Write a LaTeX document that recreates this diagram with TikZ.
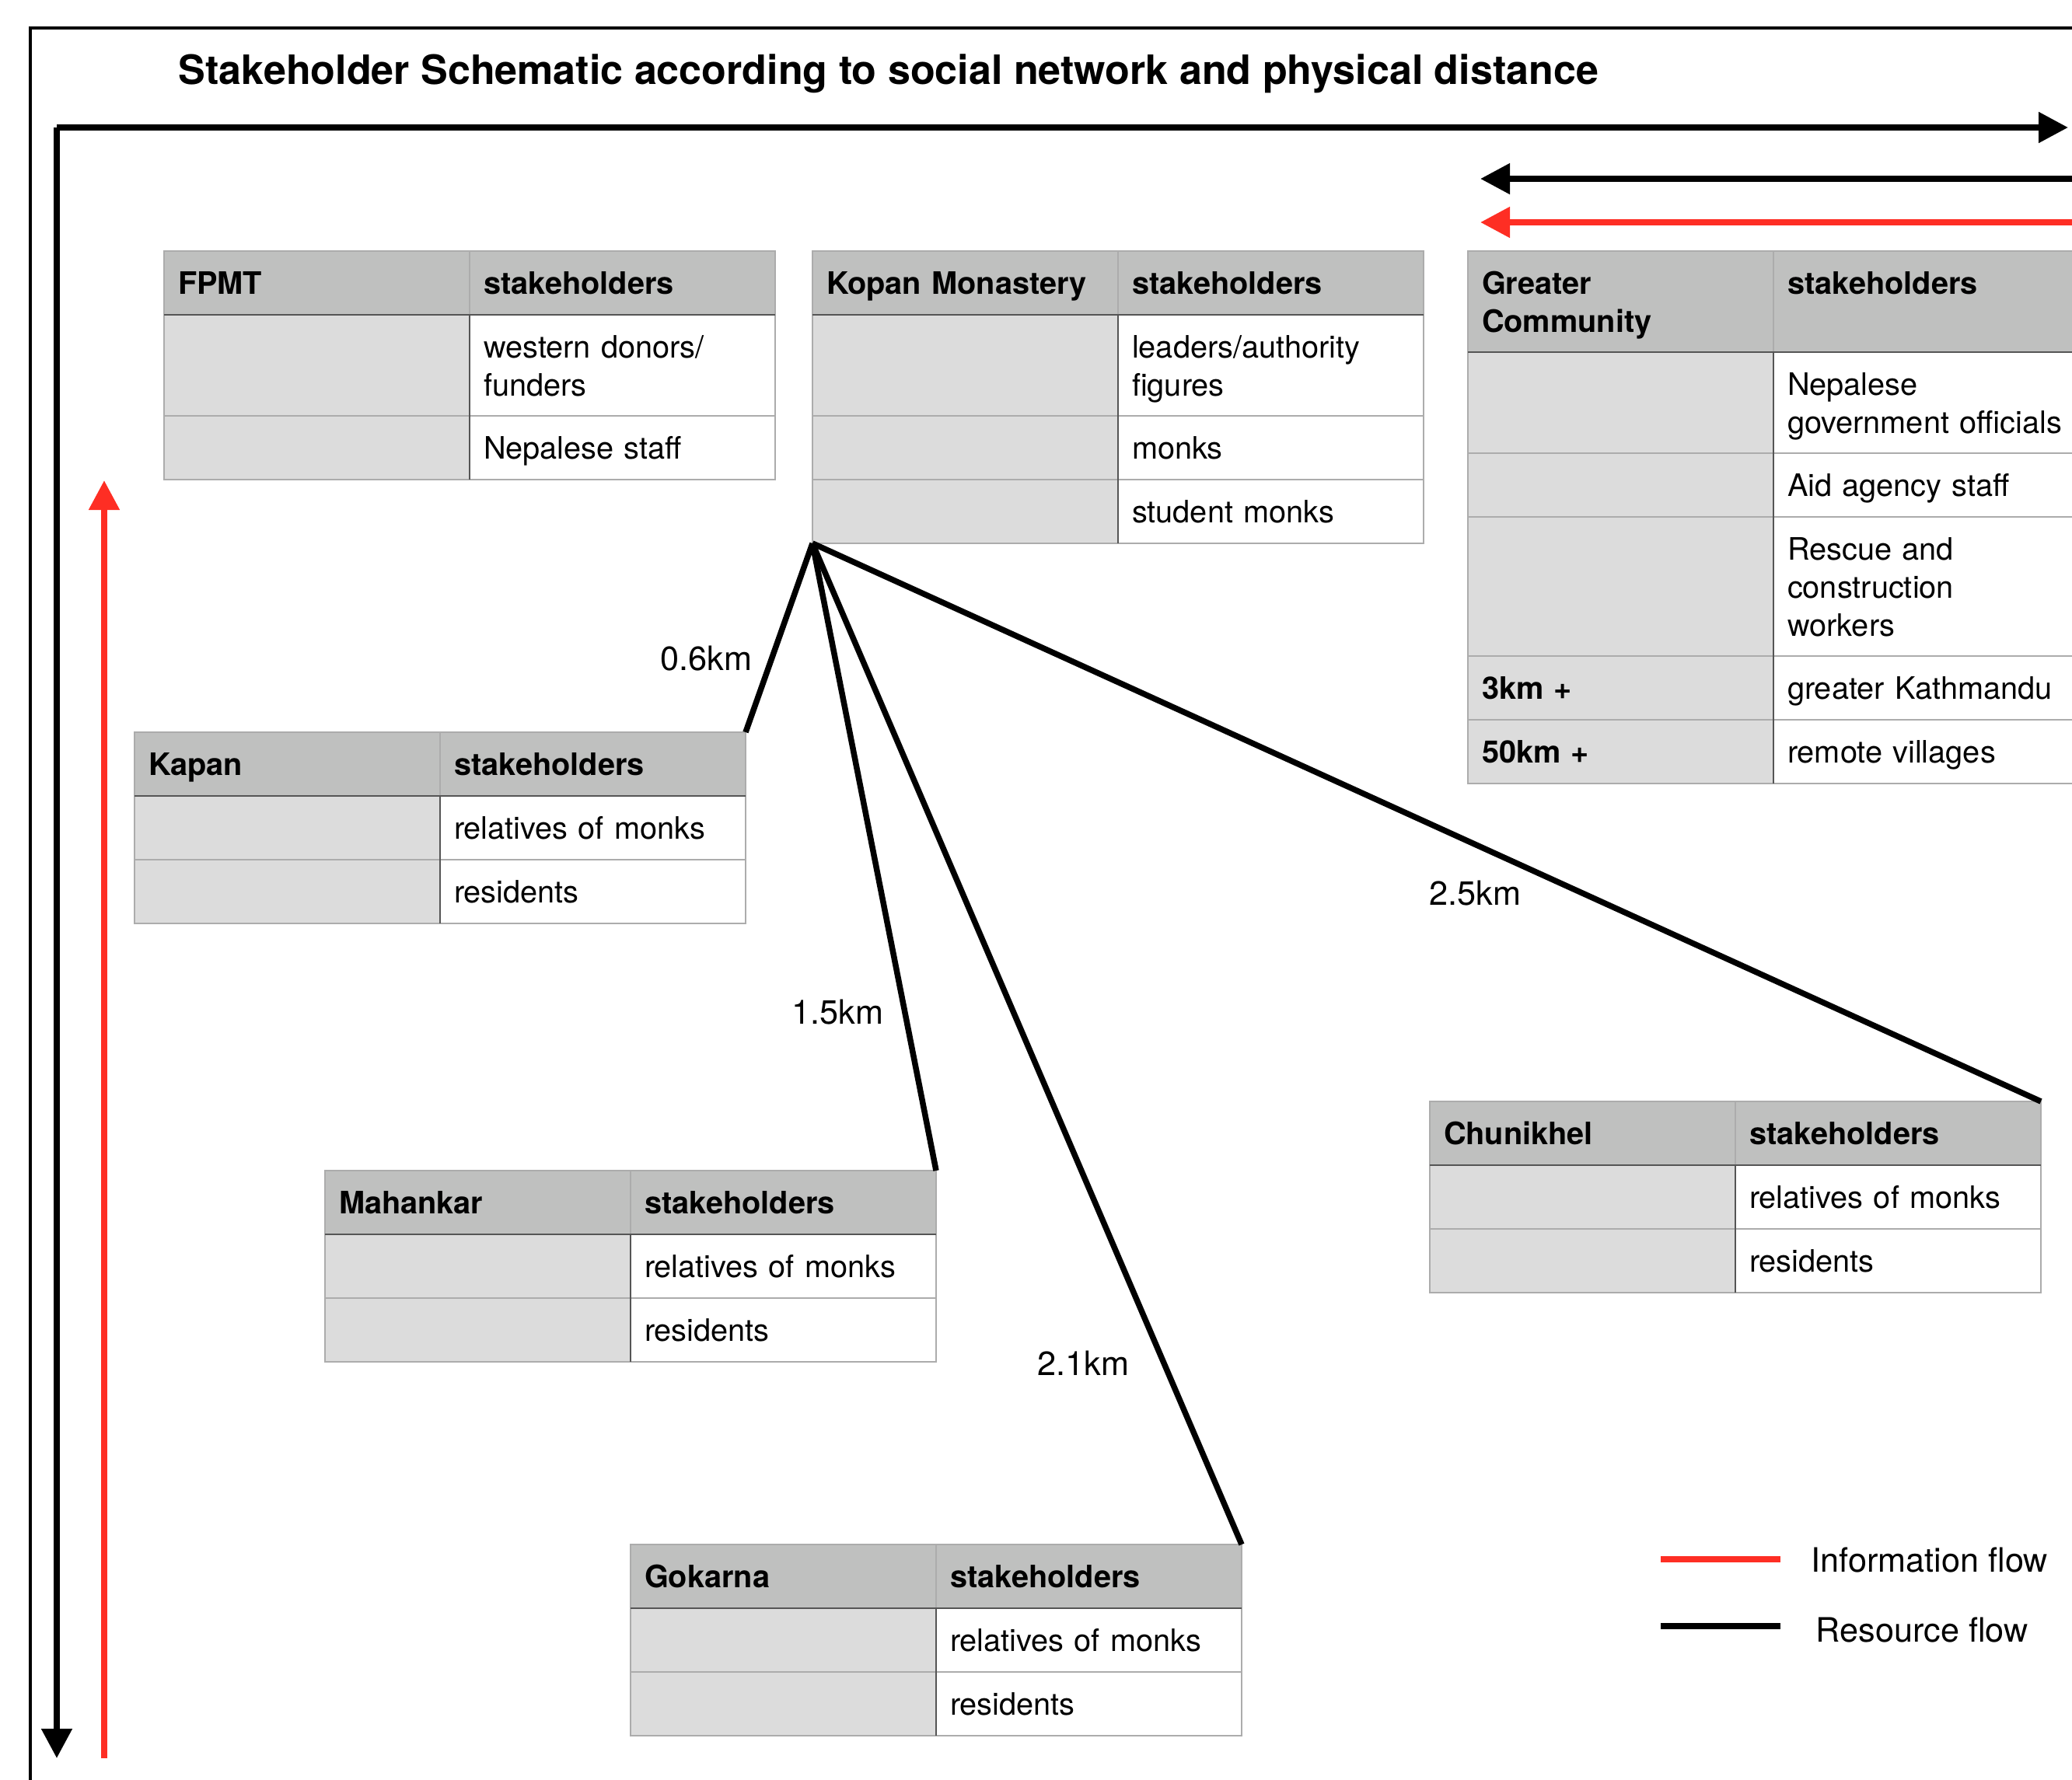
\documentclass[tikz,border=0pt]{standalone}
\usepackage{fontspec}
\setmainfont{TeX Gyre Heros}
\usetikzlibrary{positioning,arrows.meta}

\definecolor{hdgray}{RGB}{191,192,191}
\definecolor{sdgray}{RGB}{220,220,220}
\definecolor{gridgray}{RGB}{172,172,172}
\definecolor{darkgrid}{RGB}{85,85,85}
\definecolor{infored}{RGB}{254,46,36}

\tikzset{
  cell/.style={draw=gridgray, line width=0.02cm, outer sep=0pt, inner xsep=0.18cm, inner ysep=0pt,
    text width=3.57cm, minimum width=3.93cm, minimum height=0.82cm, align=left,
    font=\fontsize{11.3}{13.9}\selectfont,
    execute at begin node=\rule{0pt}{12.6pt}, execute at end node=\strut},
  hd/.style={cell, fill=hdgray, font=\fontsize{11.3}{13.9}\selectfont\bfseries},
  sd/.style={cell, fill=sdgray},
  bd/.style={cell, fill=white},
  two/.style={minimum height=1.30cm},
  three/.style={minimum height=1.79cm},
  darkline/.style={draw=darkgrid, line width=0.02cm},
  link/.style={line width=0.075cm},
  flow/.style={line width=0.08cm},
  dist/.style={font=\fontsize{12.3}{14.8}\selectfont, inner sep=0pt},
}

\begin{document}
\begin{tikzpicture}[>={Triangle[length=0.38cm,width=0.38cm]}]

\path[use as bounding box, clip] (0,0) rectangle (26.65,-22.89);

% frame and title
\draw[line width=0.04cm] (0.39,-24) -- (0.39,-0.36) -- (28,-0.36);
\node[anchor=base west, inner sep=0pt, font=\fontsize{14.8}{17}\selectfont\bfseries] (title) at (2.29,-1.08)
  {Stakeholder Schematic according to social network and physical distance};

% FPMT
\node[hd, anchor=north west] (fpmt) at (2.11,-3.23) {FPMT};
\node[hd, right=0pt of fpmt] (fpmt-st) {stakeholders};
\node[sd, two, below=0pt of fpmt] (fpmt-a1) {};
\node[bd, two, right=0pt of fpmt-a1] (fpmt-b1) {western donors/\\funders};
\node[sd, below=0pt of fpmt-a1] (fpmt-a2) {};
\node[bd, right=0pt of fpmt-a2] (fpmt-b2) {Nepalese staff};
\draw[darkline] (fpmt.south west) -- (fpmt-st.south east);
\draw[darkline] (fpmt-a1.north east) -- (fpmt-a2.south east);

% Kopan Monastery
\node[hd, anchor=north west] (kopan) at (10.45,-3.23) {Kopan Monastery};
\node[hd, right=0pt of kopan] (kopan-st) {stakeholders};
\node[sd, two, below=0pt of kopan] (kopan-a1) {};
\node[bd, two, right=0pt of kopan-a1] (kopan-b1) {leaders/authority\\figures};
\node[sd, below=0pt of kopan-a1] (kopan-a2) {};
\node[bd, right=0pt of kopan-a2] (kopan-b2) {monks};
\node[sd, below=0pt of kopan-a2] (kopan-a3) {};
\node[bd, right=0pt of kopan-a3] (kopan-b3) {student monks};
\draw[darkline] (kopan.south west) -- (kopan-st.south east);
\draw[darkline] (kopan-a1.north east) -- (kopan-a3.south east);

% Greater Community
\node[hd, two, anchor=north west] (greater) at (18.88,-3.23) {Greater\\Community};
\node[hd, two, right=0pt of greater] (greater-st) {stakeholders\\\mbox{}};
\node[sd, two, below=0pt of greater] (greater-a1) {};
\node[bd, two, right=0pt of greater-a1] (greater-b1) {Nepalese\\government officials};
\node[sd, below=0pt of greater-a1] (greater-a2) {};
\node[bd, right=0pt of greater-a2] (greater-b2) {Aid agency staff};
\node[sd, three, below=0pt of greater-a2] (greater-a3) {};
\node[bd, three, right=0pt of greater-a3] (greater-b3) {Rescue and\\construction\\workers};
\node[sd, below=0pt of greater-a3, font=\fontsize{11.3}{13.9}\selectfont\bfseries] (greater-a4) {3km +};
\node[bd, right=0pt of greater-a4] (greater-b4) {greater Kathmandu};
\node[sd, below=0pt of greater-a4, font=\fontsize{11.3}{13.9}\selectfont\bfseries] (greater-a5) {50km +};
\node[bd, right=0pt of greater-a5] (greater-b5) {remote villages};
\draw[darkline] (greater.south west) -- (greater-st.south east);
\draw[darkline] (greater-a1.north east) -- (greater-a5.south east);

% Kapan
\node[hd, anchor=north west] (kapan) at (1.73,-9.42) {Kapan};
\node[hd, right=0pt of kapan] (kapan-st) {stakeholders};
\node[sd, below=0pt of kapan] (kapan-a1) {};
\node[bd, right=0pt of kapan-a1] (kapan-b1) {relatives of monks};
\node[sd, below=0pt of kapan-a1] (kapan-a2) {};
\node[bd, right=0pt of kapan-a2] (kapan-b2) {residents};
\draw[darkline] (kapan.south west) -- (kapan-st.south east);
\draw[darkline] (kapan-a1.north east) -- (kapan-a2.south east);

% Mahankar
\node[hd, anchor=north west] (mahankar) at (4.18,-15.06) {Mahankar};
\node[hd, right=0pt of mahankar] (mahankar-st) {stakeholders};
\node[sd, below=0pt of mahankar] (mahankar-a1) {};
\node[bd, right=0pt of mahankar-a1] (mahankar-b1) {relatives of monks};
\node[sd, below=0pt of mahankar-a1] (mahankar-a2) {};
\node[bd, right=0pt of mahankar-a2] (mahankar-b2) {residents};
\draw[darkline] (mahankar.south west) -- (mahankar-st.south east);
\draw[darkline] (mahankar-a1.north east) -- (mahankar-a2.south east);

% Gokarna
\node[hd, anchor=north west] (gokarna) at (8.11,-19.87) {Gokarna};
\node[hd, right=0pt of gokarna] (gokarna-st) {stakeholders};
\node[sd, below=0pt of gokarna] (gokarna-a1) {};
\node[bd, right=0pt of gokarna-a1] (gokarna-b1) {relatives of monks};
\node[sd, below=0pt of gokarna-a1] (gokarna-a2) {};
\node[bd, right=0pt of gokarna-a2] (gokarna-b2) {residents};
\draw[darkline] (gokarna.south west) -- (gokarna-st.south east);
\draw[darkline] (gokarna-a1.north east) -- (gokarna-a2.south east);

% Chunikhel
\node[hd, anchor=north west] (chunikhel) at (18.39,-14.17) {Chunikhel};
\node[hd, right=0pt of chunikhel] (chunikhel-st) {stakeholders};
\node[sd, below=0pt of chunikhel] (chunikhel-a1) {};
\node[bd, right=0pt of chunikhel-a1] (chunikhel-b1) {relatives of monks};
\node[sd, below=0pt of chunikhel-a1] (chunikhel-a2) {};
\node[bd, right=0pt of chunikhel-a2] (chunikhel-b2) {residents};
\draw[darkline] (chunikhel.south west) -- (chunikhel-st.south east);
\draw[darkline] (chunikhel-a1.north east) -- (chunikhel-a2.south east);

% distances from Kopan
\draw[link] (kopan-a3.south west) -- (kapan-st.north east);
\draw[link] (kopan-a3.south west) -- (mahankar-st.north east);
\draw[link] (kopan-a3.south west) -- (gokarna-st.north east);
\draw[link] (kopan-a3.south west) -- (chunikhel-st.north east);

\node[dist, anchor=base east] (d06) at (9.68,-8.62) {0.6km};
\node[dist, anchor=base east] (d15) at (11.37,-13.17) {1.5km};
\node[dist, anchor=base east] (d21) at (14.53,-17.69) {2.1km};
\node[dist, anchor=base east] (d25) at (19.57,-11.64) {2.5km};

% axes
\coordinate (origin) at (0.73,-1.64);
\coordinate (xend) at (26.60,-1.64);
\coordinate (yend) at (0.73,-22.62);
\coordinate (redlow) at (1.34,-22.62);
\coordinate (redtop) at (1.34,-6.18);
\draw[flow, ->] (origin) -- (xend);
\draw[flow, ->] (origin) -- (yend);
\draw[flow, infored, ->] (redlow) -- (redtop);

\coordinate (back1) at (26.65,-2.30);
\coordinate (back2) at (26.65,-2.86);
\draw[flow, ->] (back1) -- (19.04,-2.30);
\draw[flow, infored, ->] (back2) -- (19.04,-2.86);

% legend
\node[dist, anchor=base west] (info) at (23.29,-20.22) {Information flow};
\node[dist, anchor=base west] (res) at (23.35,-21.12) {Resource flow};
\draw[flow, infored] (21.36,-20.06) -- (22.90,-20.06);
\draw[flow] (21.36,-20.92) -- (22.90,-20.92);

\end{tikzpicture}
\end{document}
